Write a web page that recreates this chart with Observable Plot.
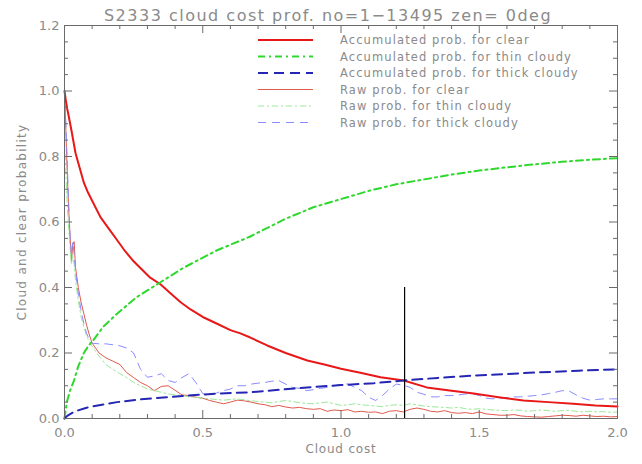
<!DOCTYPE html>
<html>
<head>
<meta charset="utf-8">
<script src="https://cdn.jsdelivr.net/npm/d3@7"></script>
<script src="https://cdn.jsdelivr.net/npm/@observablehq/plot@0.6"></script>
<style>
  html, body { margin: 0; padding: 0; background: #fff; }
  #chart { width: 642px; height: 464px; }
</style>
</head>
<body>
<div id="chart"></div>
<script>
// Accumulated probabilities versus cloud cost
const accClearX = [0, 0.005, 0.01, 0.016, 0.025, 0.04, 0.055, 0.07, 0.085, 0.10, 0.13, 0.16, 0.19, 0.22, 0.25, 0.28, 0.31, 0.347, 0.38, 0.42, 0.456, 0.5, 0.55, 0.6, 0.636, 0.67, 0.733, 0.8, 0.878, 0.94, 1.0, 1.07, 1.143, 1.227, 1.31, 1.4, 1.48, 1.57, 1.66, 1.75, 1.84, 1.92, 2.0];
const accClearY = [1.0, 0.97, 0.945, 0.92, 0.88, 0.81, 0.765, 0.72, 0.69, 0.665, 0.615, 0.58, 0.545, 0.51, 0.48, 0.455, 0.43, 0.41, 0.385, 0.355, 0.333, 0.31, 0.29, 0.27, 0.26, 0.248, 0.223, 0.2, 0.177, 0.165, 0.152, 0.14, 0.126, 0.116, 0.095, 0.085, 0.076, 0.065, 0.055, 0.05, 0.045, 0.04, 0.037];

const accThinX = [0, 0.005, 0.01, 0.02, 0.034, 0.05, 0.07, 0.085, 0.105, 0.14, 0.19, 0.26, 0.347, 0.43, 0.55, 0.67, 0.8, 0.9, 1.0, 1.1, 1.2, 1.3, 1.4, 1.5, 1.6, 1.7, 1.8, 1.9, 2.0];
const accThinY = [0, 0.03, 0.055, 0.085, 0.115, 0.16, 0.2, 0.22, 0.24, 0.28, 0.32, 0.37, 0.416, 0.46, 0.513, 0.555, 0.61, 0.645, 0.67, 0.695, 0.715, 0.73, 0.745, 0.757, 0.767, 0.776, 0.784, 0.79, 0.795];

const accThickX = [0, 0.01, 0.03, 0.046, 0.08, 0.12, 0.19, 0.27, 0.37, 0.46, 0.55, 0.67, 0.78, 0.878, 1.0, 1.12, 1.227, 1.35, 1.48, 1.6, 1.72, 1.86, 2.0];
const accThickY = [0, 0.008, 0.018, 0.024, 0.033, 0.04, 0.05, 0.058, 0.065, 0.071, 0.076, 0.08, 0.088, 0.095, 0.102, 0.108, 0.116, 0.124, 0.131, 0.136, 0.141, 0.146, 0.15];

// Raw (per-bin) probabilities, sampled on a common cloud-cost grid
const rawX = [0, 0.005, 0.01, 0.015, 0.02, 0.025, 0.03, 0.035, 0.04, 0.05, 0.06, 0.07, 0.08, 0.09,
  0.1, 0.125, 0.15, 0.175, 0.2, 0.225, 0.25, 0.275, 0.3, 0.325, 0.35, 0.375, 0.4, 0.425, 0.45, 0.475,
  0.5, 0.525, 0.55, 0.575, 0.6, 0.625, 0.65, 0.675, 0.7, 0.725, 0.75, 0.775, 0.8, 0.825, 0.85, 0.875,
  0.9, 0.925, 0.95, 0.975, 1.0, 1.025, 1.05, 1.075, 1.1, 1.125, 1.15, 1.175, 1.2, 1.225, 1.25, 1.275,
  1.3, 1.325, 1.35, 1.375, 1.4, 1.425, 1.45, 1.475, 1.5, 1.525, 1.55, 1.575, 1.6, 1.625, 1.65, 1.675,
  1.7, 1.725, 1.75, 1.775, 1.8, 1.825, 1.85, 1.875, 1.9, 1.925, 1.95, 1.975, 2.0];
const rawClear = [1.0, 0.88, 0.75, 0.64, 0.56, 0.48, 0.53, 0.54, 0.46, 0.40, 0.355, 0.32, 0.285, 0.255,
  0.23, 0.2, 0.185, 0.175, 0.165, 0.14, 0.125, 0.11, 0.1, 0.085, 0.098, 0.1, 0.086, 0.072, 0.07, 0.065,
  0.062, 0.055, 0.05, 0.045, 0.05, 0.056, 0.054, 0.05, 0.045, 0.042, 0.036, 0.04, 0.035, 0.032, 0.034, 0.03,
  0.028, 0.03, 0.022, 0.026, 0.024, 0.027, 0.02, 0.022, 0.019, 0.02, 0.015, 0.022, 0.024, 0.02, 0.028, 0.032,
  0.028, 0.022, 0.02, 0.024, 0.018, 0.016, 0.018, 0.015, 0.02, 0.014, 0.012, 0.01, 0.01, 0.012, 0.008, 0.006,
  0.005, 0.004, 0.006, 0.008, 0.01, 0.009, 0.007, 0.01, 0.008, 0.006, 0.007, 0.005, 0.006];
const rawThin = [0.85, 0.75, 0.65, 0.58, 0.52, 0.47, 0.5, 0.47, 0.42, 0.36, 0.31, 0.28, 0.25, 0.235,
  0.22, 0.19, 0.165, 0.15, 0.137, 0.125, 0.11, 0.1, 0.09, 0.085, 0.08, 0.075, 0.072, 0.07, 0.066, 0.065,
  0.062, 0.06, 0.058, 0.056, 0.058, 0.06, 0.057, 0.054, 0.052, 0.05, 0.048, 0.052, 0.055, 0.052, 0.048, 0.046,
  0.045, 0.048, 0.05, 0.045, 0.04, 0.042, 0.045, 0.042, 0.04, 0.038, 0.036, 0.04, 0.042, 0.04, 0.045, 0.042,
  0.038, 0.036, 0.035, 0.034, 0.032, 0.034, 0.03, 0.028, 0.03, 0.028, 0.026, 0.025, 0.024, 0.026, 0.025, 0.022,
  0.024, 0.026, 0.024, 0.022, 0.024, 0.025, 0.022, 0.02, 0.022, 0.02, 0.021, 0.019, 0.02];
const rawThick = [1.0, 0.9, 0.78, 0.66, 0.56, 0.5, 0.54, 0.5, 0.45, 0.38, 0.33, 0.29, 0.26, 0.24,
  0.23, 0.228, 0.228, 0.225, 0.222, 0.215, 0.2, 0.15, 0.126, 0.13, 0.137, 0.116, 0.11, 0.125, 0.137, 0.11,
  0.076, 0.072, 0.078, 0.085, 0.09, 0.1, 0.1, 0.105, 0.108, 0.11, 0.114, 0.116, 0.105, 0.095, 0.092, 0.085,
  0.088, 0.092, 0.095, 0.1, 0.104, 0.106, 0.095, 0.085, 0.065, 0.055, 0.07, 0.09, 0.105, 0.102, 0.095, 0.08,
  0.074, 0.066, 0.066, 0.07, 0.07, 0.072, 0.075, 0.076, 0.07, 0.062, 0.06, 0.062, 0.064, 0.066, 0.066, 0.068,
  0.07, 0.072, 0.076, 0.08, 0.085, 0.084, 0.072, 0.062, 0.056, 0.058, 0.06, 0.06, 0.06];

// Selected cloud-cost threshold and the height of its marker line
const thresholdX = [1.23];
const thresholdTop = 0.4;

// Axis ticks
const xMajor = [0, 0.5, 1.0, 1.5, 2.0];
const xMinor = [0.1, 0.2, 0.3, 0.4, 0.6, 0.7, 0.8, 0.9, 1.1, 1.2, 1.3, 1.4, 1.6, 1.7, 1.8, 1.9];
const yMajor = [0, 0.2, 0.4, 0.6, 0.8, 1.0, 1.2];
const yMinor = [0.05, 0.1, 0.15, 0.25, 0.3, 0.35, 0.45, 0.5, 0.55, 0.65, 0.7, 0.75, 0.85, 0.9, 0.95, 1.05, 1.1, 1.15];

const titleText = "S2333 cloud cost prof. no=1\u221213495 zen= 0deg";
const xLabel = "Cloud cost";
const yLabel = "Cloud and clear probability";

const series = [
  {name: "Accumulated prob. for clear", x: accClearX, y: accClearY, color: "#e81818", width: 2, dash: null},
  {name: "Accumulated prob. for thin cloudy", x: accThinX, y: accThinY, color: "#2ed82e", width: 2, dash: "7,4,2,4"},
  {name: "Accumulated prob. for thick cloudy", x: accThickX, y: accThickY, color: "#2626b4", width: 2, dash: "10,6"},
  {name: "Raw prob. for clear", x: rawX, y: rawClear, color: "#e05a4e", width: 1, dash: null},
  {name: "Raw prob. for thin cloudy", x: rawX, y: rawThin, color: "#9ae89a", width: 1, dash: "6,3,2,3"},
  {name: "Raw prob. for thick cloudy", x: rawX, y: rawThick, color: "#8a8cff", width: 1, dash: "8,6"}
];
const toPoints = s => s.x.map((x, i) => ({x, y: s.y[i]}));

const W = 642, H = 464, mL = 64, mR = 25, mT = 25, mB = 46;
const xDomain = [0, 2], yDomain = [0, 1.2];
const frameW = W - mL - mR, frameH = H - mT - mB;
const axisColor = "#6a6a6a", textColor = "#8a8a8a";
const majorPx = 8, minorPx = 4;

// tick lengths expressed in each axis' own units
const xSpan = xDomain[1] - xDomain[0], ySpan = yDomain[1] - yDomain[0];
const yLen = px => px / frameH * ySpan;   // vertical length for ticks on the x axes
const xLen = px => px / frameW * xSpan;   // horizontal length for ticks on the y axes

// inward ticks on all four sides of the frame
const tickMarks = (xs, ys, px) => [
  Plot.ruleX(xs, {x: d => d, y1: yDomain[0], y2: yDomain[0] + yLen(px), stroke: axisColor, strokeWidth: 1}),
  Plot.ruleX(xs, {x: d => d, y1: yDomain[1] - yLen(px), y2: yDomain[1], stroke: axisColor, strokeWidth: 1}),
  Plot.ruleY(ys, {y: d => d, x1: xDomain[0], x2: xDomain[0] + xLen(px), stroke: axisColor, strokeWidth: 1}),
  Plot.ruleY(ys, {y: d => d, x1: xDomain[1] - xLen(px), x2: xDomain[1], stroke: axisColor, strokeWidth: 1})
];

// raw curves underneath, accumulated curves on top
const drawOrder = [3, 4, 5, 0, 1, 2];

const chart = Plot.plot({
  width: W, height: H,
  marginLeft: mL, marginRight: mR, marginTop: mT, marginBottom: mB,
  x: {domain: xDomain},
  y: {domain: yDomain},
  style: {fontFamily: "DejaVu Sans", fontSize: "12px", color: textColor, background: "#fff", overflow: "visible"},
  marks: [
    ...drawOrder.map(i => {
      const s = series[i];
      return Plot.line(toPoints(s), {x: "x", y: "y", stroke: s.color, strokeWidth: s.width,
        strokeDasharray: s.dash, strokeLinejoin: "round", curve: "linear"});
    }),
    Plot.ruleX(thresholdX, {y1: 0, y2: thresholdTop, stroke: "#000", strokeWidth: 1.2}),
    ...tickMarks(xMajor, yMajor, majorPx),
    ...tickMarks(xMinor, yMinor, minorPx),
    Plot.frame({stroke: axisColor, strokeWidth: 1}),
    Plot.axisX(xMajor, {tickSize: 0, tickPadding: 9, tickFormat: d3.format(".1f"), label: null, fontSize: 13, fill: textColor}),
    Plot.axisY(yMajor, {tickSize: 0, tickPadding: 5, tickFormat: d3.format(".1f"), label: null, fontSize: 13, fill: textColor}),
    Plot.text([xLabel], {frameAnchor: "bottom", dy: 34, fontSize: 12, fill: textColor}),
    Plot.text([yLabel], {frameAnchor: "left", textAnchor: "middle", dx: -42, rotate: -90, fontSize: 12, fill: textColor}),
    Plot.text([titleText], {frameAnchor: "top", dx: -13, dy: -16, fontSize: 16, fill: textColor})
  ]
});

const svg = d3.select(chart);

// wider letter spacing for the title and axis labels
const spacing = new Map([[titleText, "1.5px"], [xLabel, "0.8px"], [yLabel, "1.3px"]]);
svg.selectAll("text").each(function () {
  const ls = spacing.get(this.textContent);
  if (ls) d3.select(this).attr("letter-spacing", ls);
});

// legend block inside the plot area, upper right
const leg = svg.append("g").attr("font-family", "DejaVu Sans").attr("font-size", 11.5)
  .attr("fill", textColor).attr("text-anchor", "start").attr("letter-spacing", "1.1px");
series.forEach((s, i) => {
  const y = 40 + i * 16.5;
  leg.append("line").attr("x1", 258).attr("x2", 313).attr("y1", y).attr("y2", y)
    .attr("stroke", s.color).attr("stroke-width", s.width)
    .attr("stroke-dasharray", s.dash);
  leg.append("text").attr("x", 340).attr("y", y).attr("dy", "0.35em").attr("stroke", "none").text(s.name);
});

document.getElementById("chart").appendChild(chart);
</script>
</body>
</html>
